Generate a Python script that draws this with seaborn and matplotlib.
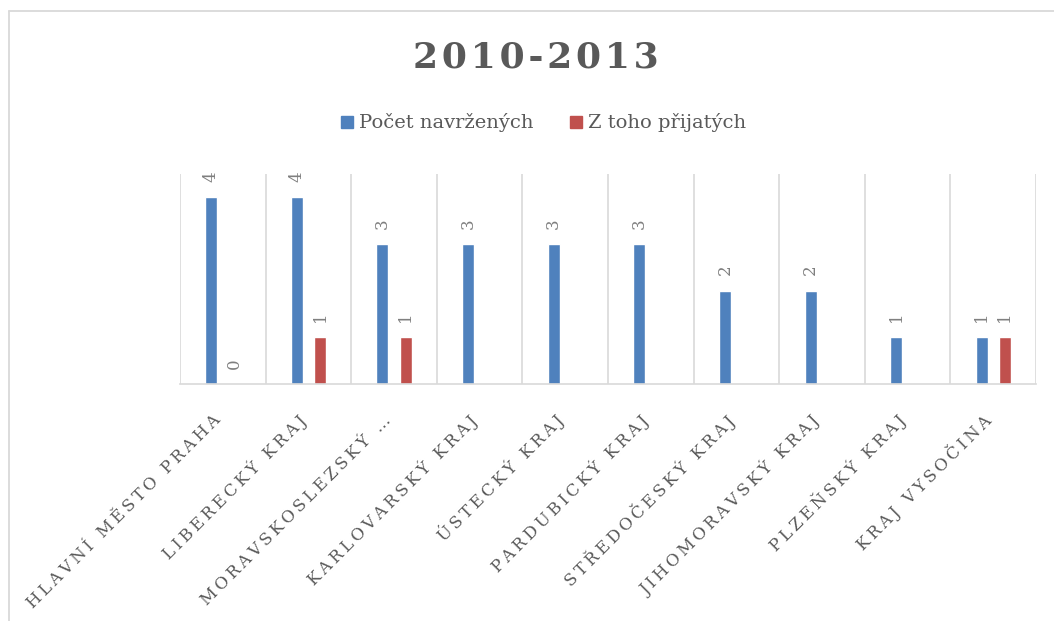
import numpy as np
import pandas as pd
import matplotlib
matplotlib.use("Agg")
import matplotlib.pyplot as plt
import matplotlib.transforms as mtransforms
from matplotlib.lines import Line2D
import seaborn as sns

# data
regions = ["Hlavní město Praha", "Liberecký kraj", "Moravskoslezský kraj",
           "Karlovarský kraj", "Ústecký kraj", "Pardubický kraj",
           "Středočeský kraj", "Jihomoravský kraj", "Plzeňský kraj",
           "Kraj Vysočina"]
tick_labels = ["HLAVNÍ MĚSTO PRAHA", "LIBERECKÝ KRAJ", "MORAVSKOSLEZSKÝ …",
               "KARLOVARSKÝ KRAJ", "ÚSTECKÝ KRAJ", "PARDUBICKÝ KRAJ",
               "STŘEDOČESKÝ KRAJ", "JIHOMORAVSKÝ KRAJ", "PLZEŇSKÝ KRAJ",
               "KRAJ VYSOČINA"]
navrzenych = [4, 4, 3, 3, 3, 3, 2, 2, 1, 1]
prijatych = [0, 1, 1, np.nan, np.nan, np.nan, np.nan, np.nan, np.nan, 1]
series = ["Počet navržených", "Z toho přijatých"]
colors = ["#4F81BD", "#C0504D"]

df = pd.DataFrame({"Kraj": regions * 2,
                   "Serie": [series[0]] * 10 + [series[1]] * 10,
                   "Pocet": navrzenych + prijatych})

sns.set_style("white")
plt.rcParams["font.family"] = ["DejaVu Serif"]
txt = "#595959"

fig = plt.figure(figsize=(10.54, 6.21), dpi=100)
ax = fig.add_axes([0.1708, 0.3816, 0.8122, 0.3382])

sns.barplot(data=df, x="Kraj", y="Pocet", hue="Serie", order=regions,
            hue_order=series, palette=colors, width=0.54, gap=0.48,
            legend=False, ax=ax, saturation=1)

for cont in ax.containers:
    for p in cont:
        h = p.get_height()
        if np.isfinite(h):
            ax.annotate(f"{h:.0f}", (p.get_x() + p.get_width() / 2, h),
                        xytext=(0, 11), textcoords="offset points",
                        rotation=90, ha="center", va="bottom",
                        fontsize=12, color="#7F7F7F")

ax.set_xlim(-0.5, 9.5)
ax.set_ylim(0, 4.5)
ax.set_yticks([])
ax.set_xticks(np.arange(-0.5, 10, 1), minor=True)
ax.grid(which="minor", axis="x", color="#D9D9D9", lw=1.2)
ax.tick_params(which="both", length=0)
for s in ["top", "left", "right"]:
    ax.spines[s].set_visible(False)
ax.spines["bottom"].set_color("#D9D9D9")
ax.spines["bottom"].set_linewidth(1.2)
ax.set_xlabel("")
ax.set_ylabel("")

spaced = ["\u2009".join(t) for t in tick_labels]
ax.set_xticks(range(len(regions)))
ax.set_xticklabels(spaced, rotation=45, ha="right", va="center",
                   rotation_mode="anchor", fontsize=12, color=txt)
ax.tick_params(axis="x", pad=22)
shift = mtransforms.ScaledTranslation(-5 / 100, -3 / 100, fig.dpi_scale_trans)
for lab in ax.get_xticklabels():
    lab.set_transform(lab.get_transform() + shift)

fig.text(0.508, 0.908, "\u200a".join("2010-2013"), ha="center", va="center",
         fontsize=26, fontweight="bold", color=txt)

handles = [Line2D([], [], marker="s", ls="", markersize=9, color=c) for c in colors]
fig.legend(handles, series, loc="center", bbox_to_anchor=(0.515, 0.802),
           ncol=2, frameon=False, fontsize=14, labelcolor=txt,
           handletextpad=0.2, columnspacing=1.8, handlelength=0.8)

# chart frame
fig.add_artist(Line2D([8.5 / 1054, 1], [1 - 10.5 / 621] * 2, color="#D9D9D9", lw=1.3))
fig.add_artist(Line2D([8.5 / 1054] * 2, [0, 1 - 10.5 / 621], color="#D9D9D9", lw=1.3))

fig.savefig("out.png", dpi=100)
